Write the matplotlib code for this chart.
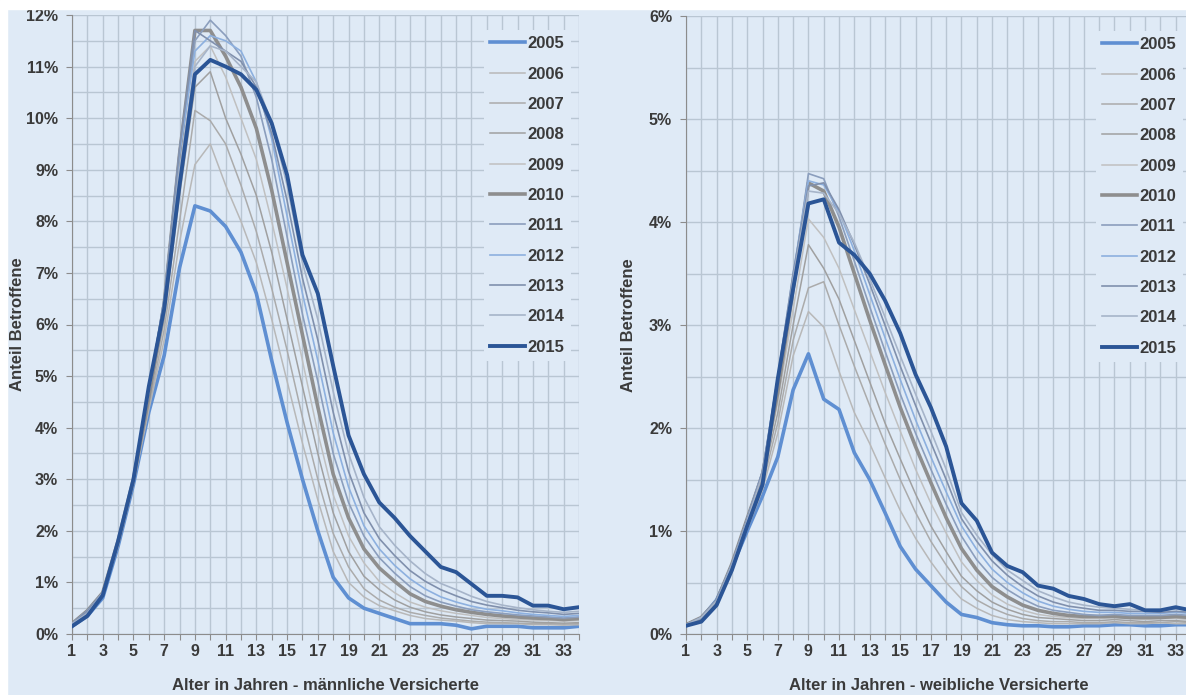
import matplotlib
matplotlib.use('Agg')
import matplotlib.pyplot as plt
from matplotlib.patches import Rectangle
from matplotlib.ticker import MultipleLocator, FuncFormatter

# Alter in Jahren
ages = list(range(1, 35))
years = ['2005', '2006', '2007', '2008', '2009', '2010', '2011', '2012', '2013', '2014', '2015']

# Anteil Betroffene in %, männliche Versicherte
m2005 = [0.15, 0.35, 0.70, 1.70, 2.90, 4.30, 5.40, 7.10, 8.30, 8.20, 7.90, 7.40, 6.60, 5.30, 4.10, 3.00, 2.00, 1.10, 0.70, 0.50, 0.40, 0.30, 0.20, 0.20, 0.20, 0.17, 0.10, 0.15, 0.15, 0.15, 0.12, 0.12, 0.12, 0.15]
m2006 = [0.20, 0.40, 0.75, 1.70, 2.90, 4.35, 5.70, 7.60, 9.10, 9.50, 8.70, 8.00, 7.20, 6.10, 4.90, 3.70, 2.60, 1.60, 1.00, 0.72, 0.55, 0.45, 0.36, 0.30, 0.27, 0.25, 0.22, 0.20, 0.20, 0.20, 0.18, 0.18, 0.17, 0.18]
m2007 = [0.20, 0.40, 0.75, 1.75, 3.00, 4.40, 5.90, 8.00, 10.15, 9.95, 9.50, 8.70, 7.80, 6.70, 5.50, 4.20, 3.00, 1.95, 1.30, 0.88, 0.66, 0.52, 0.42, 0.36, 0.31, 0.28, 0.25, 0.23, 0.22, 0.21, 0.20, 0.20, 0.19, 0.20]
m2008 = [0.20, 0.45, 0.75, 1.75, 3.00, 4.50, 6.10, 8.50, 10.60, 10.90, 10.00, 9.30, 8.50, 7.40, 6.10, 4.80, 3.50, 2.35, 1.60, 1.12, 0.86, 0.66, 0.52, 0.43, 0.37, 0.33, 0.30, 0.27, 0.26, 0.25, 0.23, 0.22, 0.21, 0.22]
m2009 = [0.20, 0.45, 0.80, 1.80, 3.00, 4.60, 6.30, 8.90, 11.10, 11.40, 10.80, 10.00, 9.20, 8.00, 6.70, 5.30, 3.90, 2.70, 1.90, 1.38, 1.02, 0.80, 0.62, 0.52, 0.45, 0.40, 0.36, 0.32, 0.30, 0.28, 0.27, 0.26, 0.25, 0.26]
m2010 = [0.20, 0.45, 0.80, 1.80, 3.00, 4.60, 6.40, 9.30, 11.70, 11.70, 11.20, 10.60, 9.80, 8.60, 7.20, 5.80, 4.40, 3.10, 2.25, 1.65, 1.28, 1.02, 0.78, 0.63, 0.54, 0.47, 0.42, 0.38, 0.35, 0.33, 0.31, 0.30, 0.28, 0.30]
m2011 = [0.20, 0.45, 0.80, 1.80, 3.00, 4.70, 6.50, 9.40, 11.50, 11.90, 11.60, 11.20, 10.40, 9.20, 7.70, 6.20, 4.90, 3.50, 2.55, 1.90, 1.48, 1.18, 0.92, 0.74, 0.62, 0.54, 0.47, 0.43, 0.40, 0.37, 0.35, 0.33, 0.31, 0.33]
m2012 = [0.20, 0.45, 0.80, 1.80, 3.00, 4.70, 6.50, 9.30, 11.30, 11.60, 11.50, 11.30, 10.70, 9.60, 8.10, 6.60, 5.30, 3.90, 2.85, 2.10, 1.65, 1.33, 1.07, 0.87, 0.72, 0.62, 0.54, 0.48, 0.45, 0.41, 0.38, 0.36, 0.34, 0.36]
m2013 = [0.20, 0.45, 0.80, 1.80, 3.00, 4.70, 6.50, 9.40, 11.70, 11.50, 11.30, 11.10, 10.60, 9.70, 8.40, 6.90, 5.70, 4.30, 3.15, 2.35, 1.85, 1.52, 1.23, 1.02, 0.86, 0.74, 0.63, 0.56, 0.51, 0.46, 0.43, 0.41, 0.38, 0.40]
m2014 = [0.20, 0.40, 0.80, 1.80, 3.00, 4.70, 6.40, 9.00, 11.00, 11.40, 11.30, 11.00, 10.70, 9.90, 8.70, 7.20, 6.10, 4.70, 3.50, 2.65, 2.08, 1.72, 1.42, 1.17, 0.98, 0.86, 0.73, 0.63, 0.56, 0.51, 0.47, 0.44, 0.42, 0.44]
m2015 = [0.15, 0.35, 0.75, 1.80, 3.00, 4.80, 6.30, 8.70, 10.85, 11.13, 11.00, 10.85, 10.55, 9.90, 8.90, 7.35, 6.60, 5.20, 3.85, 3.10, 2.55, 2.25, 1.90, 1.60, 1.30, 1.20, 0.97, 0.74, 0.74, 0.71, 0.55, 0.55, 0.48, 0.52]

# Anteil Betroffene in %, weibliche Versicherte
f2005 = [0.08, 0.15, 0.33, 0.65, 1.00, 1.34, 1.72, 2.37, 2.72, 2.28, 2.18, 1.76, 1.50, 1.18, 0.85, 0.63, 0.47, 0.31, 0.19, 0.16, 0.11, 0.09, 0.08, 0.08, 0.07, 0.07, 0.08, 0.08, 0.09, 0.09, 0.08, 0.08, 0.09, 0.09]
f2006 = [0.08, 0.14, 0.30, 0.62, 1.02, 1.40, 1.95, 2.70, 3.13, 2.98, 2.55, 2.15, 1.85, 1.52, 1.20, 0.93, 0.70, 0.50, 0.34, 0.25, 0.18, 0.14, 0.12, 0.11, 0.10, 0.10, 0.10, 0.10, 0.11, 0.10, 0.10, 0.11, 0.10, 0.10]
f2007 = [0.08, 0.15, 0.30, 0.64, 1.05, 1.45, 2.05, 2.85, 3.36, 3.42, 3.00, 2.60, 2.22, 1.85, 1.50, 1.18, 0.90, 0.67, 0.46, 0.33, 0.25, 0.19, 0.15, 0.13, 0.12, 0.12, 0.11, 0.11, 0.12, 0.11, 0.11, 0.11, 0.12, 0.11]
f2008 = [0.08, 0.15, 0.31, 0.66, 1.08, 1.50, 2.15, 3.00, 3.78, 3.55, 3.25, 2.85, 2.45, 2.05, 1.70, 1.36, 1.05, 0.80, 0.56, 0.42, 0.31, 0.24, 0.19, 0.16, 0.15, 0.14, 0.13, 0.13, 0.14, 0.13, 0.12, 0.13, 0.13, 0.12]
f2009 = [0.08, 0.15, 0.32, 0.67, 1.10, 1.52, 2.25, 3.15, 4.03, 3.85, 3.55, 3.15, 2.75, 2.35, 1.97, 1.60, 1.27, 0.98, 0.70, 0.52, 0.38, 0.29, 0.23, 0.19, 0.17, 0.16, 0.15, 0.15, 0.16, 0.15, 0.14, 0.15, 0.15, 0.14]
f2010 = [0.09, 0.16, 0.32, 0.68, 1.12, 1.55, 2.35, 3.35, 4.38, 4.30, 3.95, 3.50, 3.05, 2.62, 2.20, 1.82, 1.47, 1.13, 0.83, 0.62, 0.46, 0.36, 0.28, 0.23, 0.20, 0.18, 0.17, 0.17, 0.17, 0.16, 0.16, 0.16, 0.17, 0.16]
f2011 = [0.09, 0.16, 0.33, 0.68, 1.12, 1.58, 2.45, 3.45, 4.47, 4.42, 4.05, 3.62, 3.18, 2.75, 2.33, 1.95, 1.60, 1.26, 0.95, 0.72, 0.55, 0.43, 0.34, 0.27, 0.23, 0.21, 0.19, 0.18, 0.19, 0.18, 0.18, 0.18, 0.19, 0.18]
f2012 = [0.09, 0.16, 0.33, 0.68, 1.12, 1.58, 2.50, 3.50, 4.40, 4.36, 4.10, 3.72, 3.30, 2.88, 2.47, 2.08, 1.72, 1.38, 1.05, 0.82, 0.63, 0.50, 0.40, 0.32, 0.27, 0.24, 0.22, 0.21, 0.21, 0.20, 0.20, 0.20, 0.21, 0.20]
f2013 = [0.09, 0.16, 0.33, 0.68, 1.12, 1.58, 2.50, 3.50, 4.35, 4.38, 4.12, 3.78, 3.40, 3.00, 2.60, 2.22, 1.86, 1.50, 1.12, 0.90, 0.71, 0.57, 0.46, 0.37, 0.31, 0.27, 0.25, 0.23, 0.23, 0.22, 0.22, 0.21, 0.22, 0.21]
f2014 = [0.09, 0.16, 0.32, 0.67, 1.10, 1.55, 2.45, 3.45, 4.30, 4.28, 4.08, 3.80, 3.45, 3.08, 2.70, 2.33, 1.97, 1.60, 1.18, 0.96, 0.77, 0.62, 0.52, 0.42, 0.36, 0.31, 0.28, 0.26, 0.25, 0.24, 0.23, 0.23, 0.24, 0.23]
f2015 = [0.08, 0.12, 0.28, 0.62, 1.05, 1.45, 2.48, 3.35, 4.18, 4.22, 3.80, 3.68, 3.50, 3.24, 2.92, 2.52, 2.20, 1.82, 1.27, 1.10, 0.79, 0.66, 0.60, 0.47, 0.44, 0.37, 0.34, 0.29, 0.27, 0.29, 0.23, 0.23, 0.26, 0.23]

male = [m2005, m2006, m2007, m2008, m2009, m2010, m2011, m2012, m2013, m2014, m2015]
female = [f2005, f2006, f2007, f2008, f2009, f2010, f2011, f2012, f2013, f2014, f2015]

colors = ['#5f8fd2', '#b8b8b8', '#ababab', '#a0a0a0', '#c0c0c0', '#8e8e8e',
          '#8b9ebd', '#8db0df', '#8090ad', '#a6b4c9', '#2b5596']
widths = [2.6, 1.1, 1.1, 1.1, 1.1, 2.6, 1.2, 1.2, 1.2, 1.2, 2.8]

bg = '#dfeaf6'
grid_col = '#b9c6d3'
text_col = '#3a3a3a'

plt.rcParams['font.family'] = ['Liberation Sans', 'DejaVu Sans']
plt.rcParams['font.weight'] = 'bold'

fig = plt.figure(figsize=(11.86, 6.95), dpi=100, facecolor=bg)
# white margins top and left
fig.patches.append(Rectangle((0, 1 - 9 / 695), 1, 9 / 695, transform=fig.transFigure, color='white', zorder=0))
fig.patches.append(Rectangle((0, 0), 7 / 1186, 1, transform=fig.transFigure, color='white', zorder=0))

ax1 = fig.add_axes([72 / 1186, 1 - 634 / 695, 507 / 1186, 619 / 695])
ax2 = fig.add_axes([686 / 1186, 1 - 634 / 695, 505 / 1186, 618 / 695])


def style_axis(ax, ymax, xlabel, ylab_x):
    ax.set_facecolor(bg)
    ax.set_xlim(1, 34)
    ax.set_ylim(0, ymax)
    ax.set_xticks(ages)
    ax.set_xticklabels([str(a) if a % 2 == 1 else '' for a in ages])
    ax.yaxis.set_major_locator(MultipleLocator(1))
    ax.yaxis.set_minor_locator(MultipleLocator(0.5))
    ax.yaxis.set_major_formatter(FuncFormatter(lambda v, p: '%d%%' % round(v)))
    ax.grid(True, which='both', axis='y', color=grid_col, lw=1.0, zorder=0)
    ax.grid(True, which='major', axis='x', color=grid_col, lw=1.0, zorder=0)
    ax.set_axisbelow(True)
    for s in ['top', 'right']:
        ax.spines[s].set_visible(False)
    for s in ['left', 'bottom']:
        ax.spines[s].set_color('#8c8c8c')
    ax.tick_params(axis='both', which='major', length=4, color='#8c8c8c', labelsize=11.5, labelcolor=text_col)
    ax.tick_params(axis='y', which='minor', length=0)
    ax.tick_params(axis='x', pad=3)
    ax.tick_params(axis='y', pad=6)
    ax.set_xlabel(xlabel, fontsize=12, fontweight='bold', color=text_col, labelpad=14)
    ax.set_ylabel('Anteil Betroffene', fontsize=12, fontweight='bold', color=text_col)
    ax.yaxis.set_label_coords(ylab_x, 0.5)


for ax, data in [(ax1, male), (ax2, female)]:
    for yr, vals, c, w in zip(years, data, colors, widths):
        ax.plot(ages, vals, color=c, lw=w, label=yr, zorder=3)

style_axis(ax1, 12, 'Alter in Jahren - männliche Versicherte', -0.093)
style_axis(ax2, 6, 'Alter in Jahren - weibliche Versicherte', -0.099)

for ax in [ax1, ax2]:
    leg = ax.legend(loc='upper right', bbox_to_anchor=(1.0, 0.99), frameon=True,
                    facecolor=bg, edgecolor='none', framealpha=1.0,
                    handlelength=2.1, handletextpad=0.1, labelspacing=0.92,
                    borderpad=0.4, borderaxespad=0.5, fontsize=12)
    leg.set_zorder(5)
    for t in leg.get_texts():
        t.set_color(text_col)
        t.set_fontweight('bold')

fig.savefig('out.png', dpi=100, facecolor=fig.get_facecolor())
